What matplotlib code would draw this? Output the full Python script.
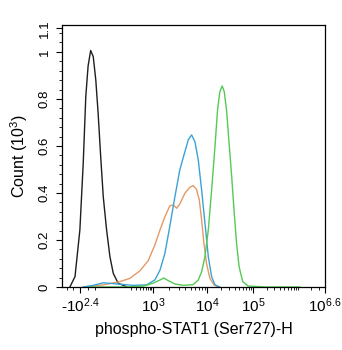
"""
Flow cytometry overlay: phospho-STAT1 (Ser727)-H histogram, four samples.
"""
import matplotlib
matplotlib.use("Agg")
import matplotlib.pyplot as plt
import numpy as np

plt.rcParams["font.family"] = ["Liberation Sans", "DejaVu Sans"]
plt.rcParams["mathtext.fontset"] = "custom"
plt.rcParams["mathtext.rm"] = "Liberation Sans"
plt.rcParams["mathtext.it"] = "Liberation Sans:italic"
plt.rcParams["mathtext.bf"] = "Liberation Sans:bold"

# ── histogram data (channel 0..1024, count in 10^3) ───────────────────────────
black_ch = [31, 51, 70, 83, 93, 102, 112, 122, 132, 141, 151, 161, 174, 187,
            200, 219, 252]
black_ct = [0, 0.044, 0.243, 0.526, 0.81, 0.94, 1.006, 0.98, 0.88, 0.74,
            0.555, 0.384, 0.243, 0.129, 0.058, 0.016, 0.001]

blue_ch = [83, 122, 161, 213, 278, 330, 362, 382, 401, 420, 440, 459, 479,
           492, 505, 518, 531, 544, 557, 570, 583, 596, 615]
blue_ct = [0, 0.007, 0.018, 0.013, 0.007, 0.009, 0.03, 0.072, 0.143, 0.257,
           0.384, 0.498, 0.576, 0.626, 0.647, 0.618, 0.54, 0.413, 0.271,
           0.129, 0.044, 0.009, 0]

orange_ch = [96, 161, 226, 265, 304, 336, 362, 382, 401, 420, 433, 447, 459,
             479, 498, 511, 524, 535, 544, 553, 563, 576, 592, 609]
orange_ct = [0, 0.009, 0.023, 0.037, 0.069, 0.112, 0.179, 0.243, 0.299,
             0.345, 0.349, 0.335, 0.353, 0.399, 0.424, 0.431, 0.416, 0.37,
             0.285, 0.186, 0.101, 0.037, 0.009, 0]

green_ch = [109, 252, 317, 355, 382, 397, 414, 440, 472, 511, 531, 544, 557,
            570, 583, 596, 606, 615, 624, 632, 641, 650, 661, 671, 680, 690,
            704, 725, 797, 927]
green_ct = [0, 0, 0.004, 0.016, 0.03, 0.038, 0.027, 0.013, 0.007, 0.01, 0.03,
            0.065, 0.129, 0.243, 0.413, 0.597, 0.753, 0.831, 0.855, 0.831,
            0.753, 0.626, 0.47, 0.314, 0.186, 0.086, 0.023, 0.004, 0, 0]

# axis labels (biexponential display) and the channels they sit on
tick_labels = [r"-10$^{2.4}$", r"10$^{3}$", r"10$^{4}$", r"10$^{5}$", r"10$^{6.6}$"]
tick_ch = [70, 354, 565, 744, 1024]
y_ticks = [0, 0.2, 0.4, 0.6, 0.8, 1.0, 1.1]
y_labels = ["0", "0.2", "0.4", "0.6", "0.8", "1", "1.1"]


def log_minors(start_ch, decade_w, n_dec):
    out = []
    for d in range(n_dec):
        for m in range(2, 10):
            c = start_ch + decade_w * (d + np.log10(m))
            if c < 1024:
                out.append(c)
    return out


fig = plt.figure(figsize=(3.42, 3.50), dpi=100)
ax = fig.add_axes([0.181, 0.18, 0.769, 0.749])

ax.plot(black_ch, black_ct, color="#1e1e1e", lw=1.0)
ax.plot(orange_ch, orange_ct, color="#e39a66", lw=1.0)
ax.plot(blue_ch, blue_ct, color="#3aa3d4", lw=1.0)
ax.plot(green_ch, green_ct, color="#55c955", lw=1.0)

ax.set_xlim(0, 1024)
ax.set_ylim(0, 1.115)

ax.set_xticks(tick_ch)
ax.set_xticklabels(tick_labels, fontsize=11)
minors = log_minors(230, 124, 1) + log_minors(354, 211, 1) \
    + log_minors(565, 179, 1) + log_minors(744, 175, 2) + [20, 45, 100, 130, 919]
ax.set_xticks(minors, minor=True)

ax.set_yticks(y_ticks)
ax.set_yticklabels(y_labels, rotation=90, va="center", fontsize=9.5)
ax.set_yticks(np.arange(0, 1.1, 0.04), minor=True)

ax.tick_params(which="major", direction="out", length=4, width=0.8,
               pad=3, colors="black")
ax.tick_params(which="minor", direction="out", length=2.5, width=0.6)
ax.tick_params(axis="y", which="major", pad=4)

for s in ax.spines.values():
    s.set_linewidth(0.9)
    s.set_color("black")

ax.set_xlabel("phospho-STAT1 (Ser727)-H", fontsize=11.5, labelpad=5)
ax.set_ylabel("Count (10$^{3}$)", fontsize=11.5, labelpad=6)

fig.savefig("out.png", dpi=100)
